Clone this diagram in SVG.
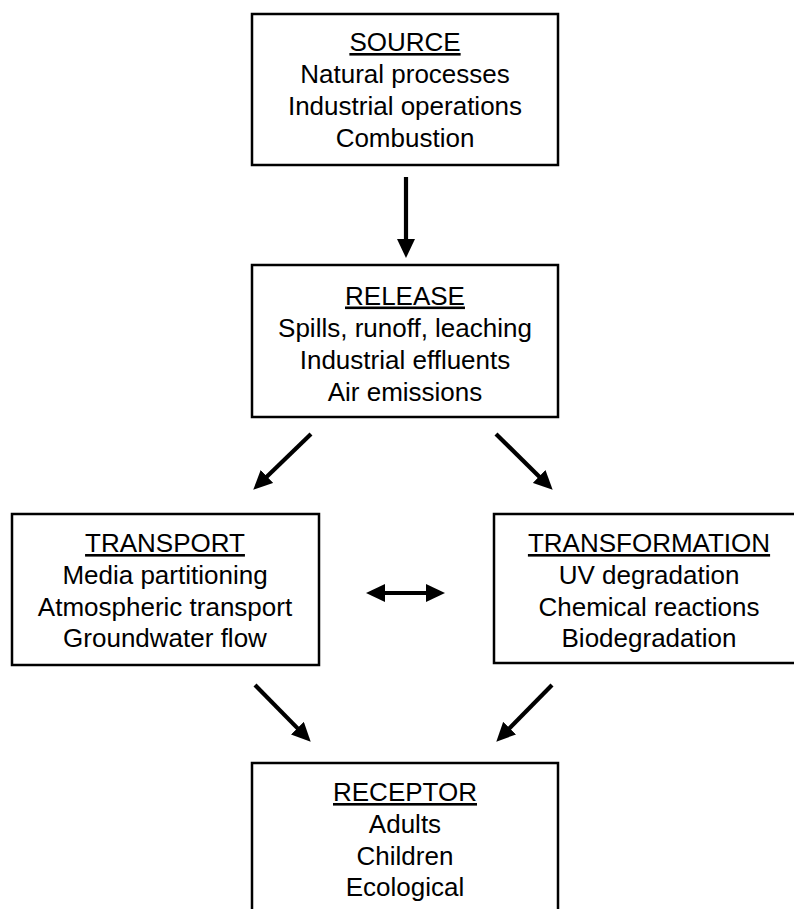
<svg xmlns="http://www.w3.org/2000/svg" width="794" height="909" viewBox="0 0 794 909">
<defs>
<style>
.box{fill:#fff;stroke:#000;stroke-width:2.5}
text{font-family:"Liberation Sans",Arial,Helvetica,sans-serif;font-size:26px;fill:#000;text-anchor:middle}
.h{text-decoration:underline}
.c{stroke:#000;stroke-width:4.2;fill:none}
</style>
<marker id="ah" viewBox="0 0 19 18" markerWidth="19" markerHeight="18" refX="6" refY="9" orient="auto-start-reverse" markerUnits="userSpaceOnUse">
<path d="M0,0 L19,9 L0,18 z" fill="#000"/>
</marker>
</defs>
<rect width="794" height="909" fill="#fff"/>
<g id="source">
<rect class="box" x="252" y="14" width="306" height="151"/>
<text x="405" y="51"><tspan class="h">SOURCE</tspan></text>
<text x="405" y="83">Natural processes</text>
<text x="405" y="115">Industrial operations</text>
<text x="405" y="147">Combustion</text>
</g>
<g id="release">
<rect class="box" x="252" y="265" width="306" height="152"/>
<text x="405" y="304.5"><tspan class="h">RELEASE</tspan></text>
<text x="405" y="336.5">Spills, runoff, leaching</text>
<text x="405" y="368.5">Industrial effluents</text>
<text x="405" y="400.5">Air emissions</text>
</g>
<g id="transport">
<rect class="box" x="12" y="514" width="307" height="151"/>
<text x="165" y="552"><tspan class="h">TRANSPORT</tspan></text>
<text x="165" y="584">Media partitioning</text>
<text x="165" y="615.5">Atmospheric transport</text>
<text x="165" y="647">Groundwater flow</text>
</g>
<g id="transformation">
<rect class="box" x="494" y="514" width="310" height="149"/>
<text x="649" y="552"><tspan class="h">TRANSFORMATION</tspan></text>
<text x="649" y="584">UV degradation</text>
<text x="649" y="615.5">Chemical reactions</text>
<text x="649" y="647">Biodegradation</text>
</g>
<g id="receptor">
<rect class="box" x="252" y="763" width="306" height="160"/>
<text x="405" y="801"><tspan class="h">RECEPTOR</tspan></text>
<text x="405" y="833">Adults</text>
<text x="405" y="864.5">Children</text>
<text x="405" y="896">Ecological</text>
</g>
<g id="connectors">
<line class="c" x1="406" y1="177" x2="406" y2="245" marker-end="url(#ah)"/>
<line class="c" x1="311" y1="434" x2="262.6" y2="480.7" marker-end="url(#ah)"/>
<line class="c" x1="496" y1="434" x2="543.4" y2="480.7" marker-end="url(#ah)"/>
<line class="c" x1="379" y1="593" x2="432" y2="593" marker-start="url(#ah)" marker-end="url(#ah)"/>
<line class="c" x1="255" y1="685" x2="301.6" y2="732.4" marker-end="url(#ah)"/>
<line class="c" x1="552" y1="685" x2="505.4" y2="732.4" marker-end="url(#ah)"/>
</g>
</svg>
